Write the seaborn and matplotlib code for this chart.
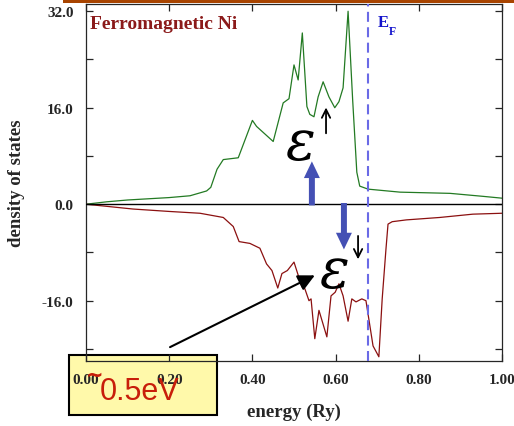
import numpy as np
import pandas as pd
import matplotlib
matplotlib.use('Agg')
import matplotlib.pyplot as plt
from matplotlib.patches import Rectangle
import seaborn as sns

# --------------------------
# Data (energy in Ry, density of states)
# --------------------------
energy_up = [0.00, 0.05, 0.10, 0.15, 0.20, 0.25, 0.29, 0.30, 0.315, 0.33, 0.366,
             0.40, 0.41, 0.45, 0.474, 0.488, 0.50, 0.51, 0.52, 0.531, 0.538,
             0.548, 0.558, 0.57, 0.584, 0.598, 0.608, 0.618, 0.63, 0.641, 0.651,
             0.658, 0.678, 0.755, 0.875, 0.955, 1.00]
dos_up = [0.0, 0.4, 0.7, 0.9, 1.1, 1.4, 2.2, 2.8, 5.8, 7.4, 7.7,
          13.9, 12.9, 10.4, 16.8, 17.5, 23.1, 20.6, 28.4, 16.2, 14.9,
          14.5, 17.8, 20.3, 17.8, 16.0, 17.0, 19.3, 32.0, 17.3, 5.3,
          3.0, 2.5, 2.0, 1.8, 1.3, 1.0]

energy_dn = [0.00, 0.113, 0.20, 0.274, 0.33, 0.354, 0.368, 0.394, 0.418, 0.434,
             0.447, 0.461, 0.471, 0.484, 0.50, 0.519, 0.526, 0.536, 0.541, 0.55,
             0.56, 0.579, 0.589, 0.599, 0.608, 0.618, 0.63, 0.639, 0.649, 0.663,
             0.673, 0.675, 0.69, 0.704, 0.712, 0.721, 0.726, 0.736, 0.77, 0.85,
             0.93, 1.00]
dos_dn = [0.0, -0.8, -1.2, -1.5, -2.2, -3.7, -6.2, -6.5, -7.3, -9.9,
          -11.0, -13.9, -11.5, -11.0, -9.6, -13.7, -14.0, -16.0, -15.7, -22.3,
          -17.6, -22.0, -15.2, -14.6, -13.2, -15.2, -19.4, -15.7, -16.2, -15.7,
          -16.0, -16.9, -23.5, -25.3, -15.7, -7.5, -3.3, -2.9, -2.6, -2.2,
          -1.65, -1.5]

fermi_energy = 0.678

x_ticks = [0.0, 0.2, 0.4, 0.6, 0.8, 1.0]
x_tick_labels = ['0.00', '0.20', '0.40', '0.60', '0.80', '1.00']
y_ticks = [-24, -16, -8, 0, 8, 16, 24, 32]
y_tick_labels = ['', '-16.0', '', '0.0', '', '16.0', '', '32.0']

# --------------------------
# Style
# --------------------------
sns.set_style('ticks')
plt.rcParams['font.family'] = ['Liberation Serif', 'DejaVu Serif']
plt.rcParams['font.weight'] = 'bold'
plt.rcParams['axes.linewidth'] = 0.9

fig = plt.figure(figsize=(5.14, 4.27), dpi=100)
ax = fig.add_axes([86 / 514, 1 - 362 / 427, 416 / 514, 357 / 427])

df_up = pd.DataFrame({'energy': energy_up, 'dos': dos_up})
df_dn = pd.DataFrame({'energy': energy_dn, 'dos': dos_dn})
sns.lineplot(data=df_up, x='energy', y='dos', color='#237a23', lw=0.9,
             estimator=None, sort=False, ax=ax)
sns.lineplot(data=df_dn, x='energy', y='dos', color='#8b1010', lw=0.9,
             estimator=None, sort=False, ax=ax)

ax.axhline(0, color='black', lw=1.0, zorder=3)
ax.axvline(fermi_energy, color='#6a6ae6', lw=1.5, ls=(0, (4.8, 2.6)), zorder=3)

ax.set_xlim(0, 1)
ax.set_ylim(-26, 33.2)
ax.set_xticks(x_ticks)
ax.set_xticklabels(x_tick_labels)
ax.set_yticks(y_ticks)
ax.set_yticklabels(y_tick_labels)
ax.tick_params(direction='in', length=5, width=0.9, top=True, right=True,
               labelsize=11, pad=9)
ax.set_xlabel('energy (Ry)', fontsize=13.5, fontweight='bold', labelpad=12)
ax.set_ylabel('density of states', fontsize=13.5, fontweight='bold', labelpad=12)
ax.xaxis.set_zorder(2)
ax.yaxis.set_zorder(2)

# Annotations
ax.text(0.01, 29.3, 'Ferromagnetic Ni', color='#8b1a1a', fontsize=14,
        fontweight='bold', va='baseline')
ax.text(0.702, 29.5, 'E', color='#1414cc', fontsize=12, fontweight='bold', va='baseline')
ax.text(0.728, 28.3, 'F', color='#1414cc', fontsize=8.5, fontweight='bold', va='baseline')

eps_font = dict(fontsize=40, fontstyle='italic', fontweight='normal', color='black',
                family=['DejaVu Serif'], va='baseline', ha='left')
ax.text(0.480, 7.45, 'ε', **eps_font)
ax.text(0.560, -13.7, 'ε', **eps_font)

thin = dict(arrowstyle='->,head_length=0.6,head_width=0.3', color='black', lw=1.3)
ax.annotate('', xy=(0.577, 16.5), xytext=(0.577, 11.3), arrowprops=thin)
ax.annotate('', xy=(0.654, -9.6), xytext=(0.654, -4.8), arrowprops=thin)

thick = dict(facecolor='#4450b4', edgecolor='none', width=4.3, headwidth=11.5,
             headlength=12, shrink=0)
ax.annotate('', xy=(0.543, 7.1), xytext=(0.543, -0.2), arrowprops=thick)
ax.annotate('', xy=(0.62, -7.5), xytext=(0.62, 0.2), arrowprops=thick)

ax.annotate('', xy=(0.550, -11.8), xytext=(0.202, -23.7),
            arrowprops=dict(arrowstyle='-|>,head_length=1.0,head_width=0.5',
                            color='black', lw=1.5, shrinkA=0, shrinkB=0),
            annotation_clip=False)

# Yellow box behind the tick labels
ax.add_patch(Rectangle((69 / 514, 1 - 416 / 427), 148 / 514, 60 / 427,
                       transform=fig.transFigure, clip_on=False, zorder=1,
                       facecolor='#fff9aa', edgecolor='black', lw=1.5))
box_font = dict(transform=fig.transFigure, family=['DejaVu Sans'],
                color='#c81e0a', zorder=6, va='baseline', ha='left')
ax.text(86 / 514, 1 - 382 / 427, '~', fontsize=15, fontweight='bold', **box_font)
box_font['family'] = ['Liberation Sans', 'DejaVu Sans']
ax.text(100 / 514, 1 - 400 / 427, '0.5eV', fontsize=22, fontweight='normal', **box_font)

# Orange bar on top
fig.patches.append(Rectangle((63 / 514, 1 - 4 / 427), 1, 4 / 427,
                             transform=fig.transFigure, facecolor='#a84400',
                             edgecolor='none', zorder=10))

plt.savefig('out.png', dpi=100, facecolor='white')
plt.close()
